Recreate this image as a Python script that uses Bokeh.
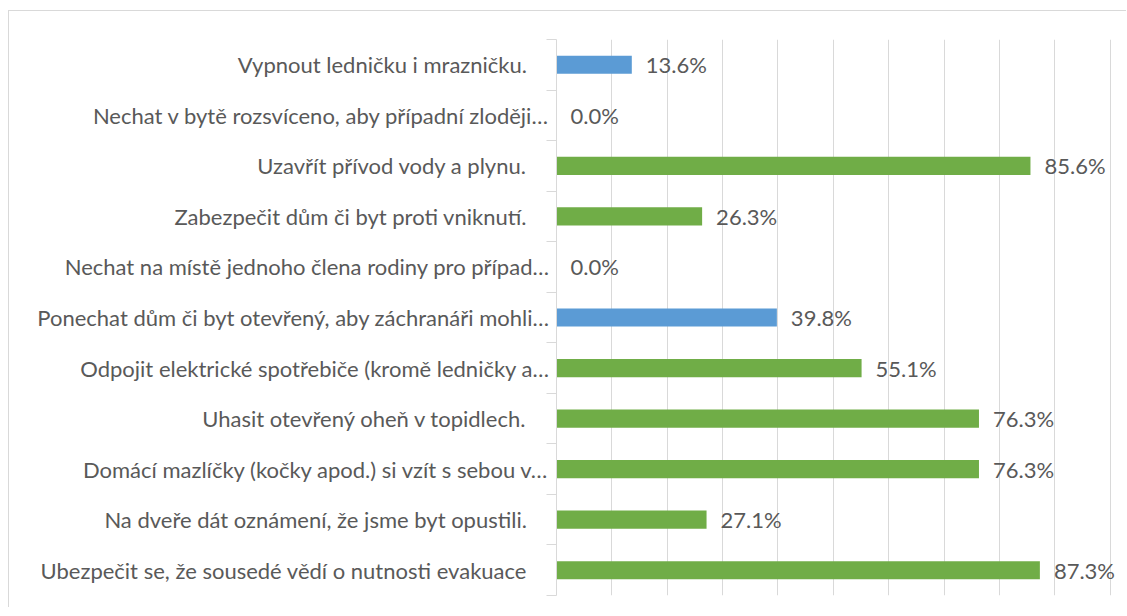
from bokeh.plotting import figure
from bokeh.models import ColumnDataSource, Range1d, FixedTicker
from bokeh.core.properties import value
from bokeh.embed import file_html
from bokeh.resources import INLINE

PAD = "\u00a0\u00a0\u00a0\u00a0"
categories = [
    "Vypnout ledničku i mrazničku." + PAD,
    "Nechat v bytě rozsvíceno, aby případní zloději…",
    "Uzavřít přívod vody a plynu." + PAD,
    "Zabezpečit dům či byt proti vniknutí." + PAD,
    "Nechat na místě jednoho člena rodiny pro případ…",
    "Ponechat dům či byt otevřený, aby záchranáři mohli…",
    "Odpojit elektrické spotřebiče (kromě ledničky a…",
    "Uhasit otevřený oheň v topidlech." + PAD,
    "Domácí mazlíčky (kočky apod.) si vzít s sebou v…",
    "Na dveře dát oznámení, že jsme byt opustili." + PAD,
    "Ubezpečit se, že sousedé vědí o nutnosti evakuace" + PAD,
]
values = [13.6, 0.0, 85.6, 26.3, 0.0, 39.8, 55.1, 76.3, 76.3, 27.1, 87.3]
groups = ["blue", "green", "green", "green", "green", "blue",
          "green", "green", "green", "green", "green"]
x_ticks = [0, 10, 20, 30, 40, 50, 60, 70, 80, 90, 100]

palette = {"blue": "#5B9BD5", "green": "#70AD47"}
FONT = "Lato"
FS = "22px"
TXT = "#595959"
GRID = "#D9D9D9"

n = len(categories)
ypos = list(range(n))
src = ColumnDataSource(dict(
    y=ypos,
    v=values,
    color=[palette[g] for g in groups],
    label=[f"{v:.1f}%" for v in values],
))

p = figure(width=1118, height=597, output_backend="svg", toolbar_location=None,
           x_range=Range1d(0, 101.5), y_range=Range1d(n - 0.5, -0.5),
           min_border_left=547, min_border_right=9, min_border_top=28,
           min_border_bottom=13, margin=(10, 0, 0, 8))
p.styles = {"border-top": "1px solid #D9D9D9", "border-left": "1px solid #D9D9D9"}
p.outline_line_color = None
p.background_fill_color = "white"
p.border_fill_color = "white"

p.hbar(y="y", left=0, right="v", height=0.36, fill_color="color",
       line_color=None, source=src)
p.text(x="v", y="y", text="label", source=src, x_offset=14,
       text_baseline="middle", text_align="left",
       text_font=value(FONT), text_font_size=FS, text_color=TXT)

p.xaxis.visible = False
p.xgrid.ticker = FixedTicker(ticks=x_ticks)
p.xgrid.grid_line_color = GRID
p.ygrid.grid_line_color = None

ax = p.yaxis[0]
ax.ticker = FixedTicker(ticks=ypos, minor_ticks=[i - 0.5 for i in range(n + 1)])
ax.major_label_overrides = {i: categories[i] for i in ypos}
ax.major_tick_out = 0
ax.major_tick_in = 0
ax.minor_tick_out = 10
ax.minor_tick_in = 0
ax.minor_tick_line_color = GRID
ax.axis_line_color = GRID
ax.major_label_standoff = -3
ax.major_label_text_font = FONT
ax.major_label_text_font_size = FS
ax.major_label_text_color = TXT

open("out.html", "w").write(file_html(p, INLINE))
